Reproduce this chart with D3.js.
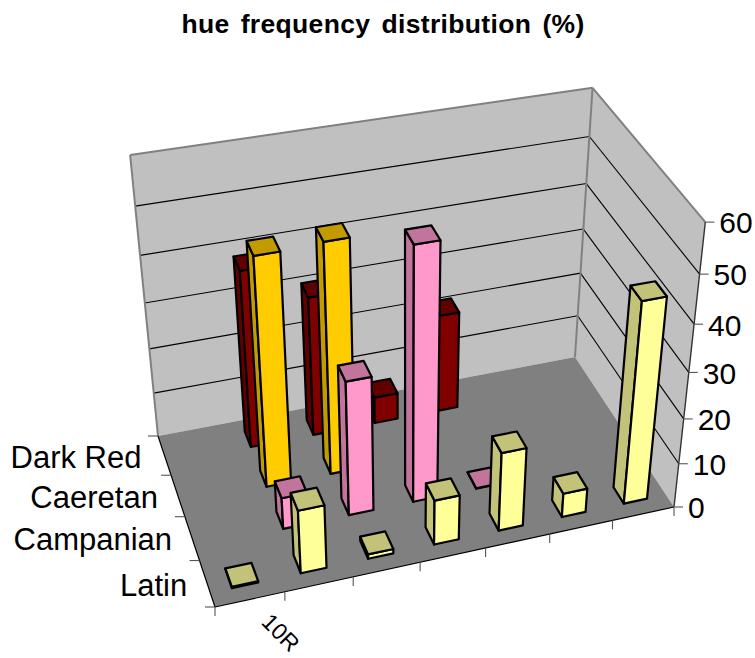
<!DOCTYPE html>
<html><head><meta charset="utf-8">
<script src="https://d3js.org/d3.v7.min.js"></script>
<style>html,body{margin:0;background:#fff}svg{display:block}text{font-family:"Liberation Sans",Arial,sans-serif;fill:#000}</style>
</head><body><svg id="c" width="755" height="658"></svg>
<script>
const categories = ["10R","","","","","",""];
const seriesNames = ["Latin","Campanian","Caeretan","Dark Red"];
const valueTicks = [0,10,20,30,40,50,60];
const latin     = [0.3,14,1,10,17.5,5.4,44];
const campanian = [0,7,29.5,54.5,0.1,0,0];
const caeretan  = [0,49.5,50,0,0,0,0];
const darkRed   = [0,39,31,6,22,0,0];
const seriesValues = [latin,campanian,caeretan,darkRed];
const faceColors = [
 {front:"#FFFF99",side:"#C2C278",top:"#C2C278"},
 {front:"#FF99CC",side:"#C2749C",top:"#C2749C"},
 {front:"#FFCC00",side:"#C29B00",top:"#C29B00"},
 {front:"#800000",side:"#610000",top:"#610000"}];

// camera calibration from the plot box: floor corners, then wall points by height fraction
const floorCorners=[[0,0,215,607],[1,0,674,507],[1,1,575,357],[0,1,158,436]];
const wallPoints=[
 [0,1,1,129,159],[0,1,5/6,136,208],[0,1,4/6,140,258],[0,1,3/6,145,305],[0,1,2/6,150,352],[0,1,1/6,154,395],
 [1,1,1,591,88],[1,1,5/6,588,136],[1,1,4/6,586,183],[1,1,3/6,583,230],[1,1,2/6,579,273],[1,1,1/6,576,317],
 [1,0,1,707,219],[1,0,5/6,700.7,270],[1,0,4/6,695,321.7],[1,0,3/6,690,371],[1,0,2/6,685,416],[1,0,1/6,680,461.7]];
function solve(A,b){const n=b.length,M=A.map((r,i)=>[...r,b[i]]);
 for(let i=0;i<n;i++){let p=i;for(let k=i+1;k<n;k++)if(Math.abs(M[k][i])>Math.abs(M[p][i]))p=k;
  [M[i],M[p]]=[M[p],M[i]];
  for(let k=0;k<n;k++)if(k!==i){const f=M[k][i]/M[i][i];for(let j=i;j<=n;j++)M[k][j]-=f*M[i][j];}}
 return M.map((r,i)=>r[n]/r[i]);}
const A=[],B=[];
floorCorners.forEach(([u,v,x,y])=>{A.push([u,v,1,0,0,0,-u*x,-v*x]);B.push(x);A.push([0,0,0,u,v,1,-u*y,-v*y]);B.push(y);});
const H=solve(A,B);H.push(1);
const base=(u,v)=>[H[0]*u+H[1]*v+H[2],H[3]*u+H[4]*v+H[5],H[6]*u+H[7]*v+H[8]];
const R=[];const S=[];
wallPoints.forEach(([u,v,w,x,y])=>{const [a,b,h]=base(u,v);R.push([w,0,-x*w]);S.push(x*h-a);R.push([0,w,-y*w]);S.push(y*h-b);});
const N=[0,1,2].map(i=>[0,1,2].map(j=>d3.sum(R,r=>r[i]*r[j])));
const T=[0,1,2].map(i=>d3.sum(R,(r,k)=>r[i]*S[k]));
const C=solve(N,T);

const xBand=d3.scaleBand().domain(d3.range(categories.length)).range([0,1]).paddingInner(.62).paddingOuter(.31);
const xStep=d3.scaleLinear().domain([0,categories.length]).range([0,1]);
const zBand=d3.scaleBand().domain(d3.range(seriesNames.length)).range([0,1]).paddingInner(.6).paddingOuter(.3);
const zStep=d3.scaleLinear().domain([0,seriesNames.length]).range([0,1]);
const yVal=d3.scaleLinear().domain([0,60]).range([0,1]);
function project(u,v,w){const [a,b,h]=base(u,v);const d=h+w*C[2];return [(a+w*C[0])/d,(b+w*C[1])/d];}

const svg=d3.select("#c");
const line=d3.line();
const poly=(pts,fill,stroke,sw,g)=>(g||svg).append("path").attr("d",line(pts)+"Z").attr("fill",fill)
  .attr("stroke",stroke).attr("stroke-width",sw).attr("stroke-linejoin","round");
const seg=(a,b,stroke,sw)=>svg.append("line").attr("x1",a[0]).attr("y1",a[1]).attr("x2",b[0]).attr("y2",b[1]).attr("stroke",stroke).attr("stroke-width",sw);

// walls & floor
poly([project(0,1,0),project(1,1,0),project(1,1,1),project(0,1,1)],"#C0C0C0","none",0);
poly([project(1,1,0),project(1,0,0),project(1,0,1),project(1,1,1)],"#C0C0C0","none",0);
poly([project(0,0,0),project(1,0,0),project(1,1,0),project(0,1,0)],"#808080","none",0);
valueTicks.slice(1,-1).forEach(t=>{const w=yVal(t);
 seg(project(0,1,w),project(1,1,w),"#000",1.1);
 seg(project(1,1,w),project(1,0,w),"#000",1.1);});
seg(project(0,1,0),project(0,1,1),"#808080",2);
seg(project(0,1,1),project(1,1,1),"#808080",2);
seg(project(1,1,0),project(1,1,1),"#808080",2);
seg(project(1,1,1),project(1,0,1),"#808080",2);

// axes
seg(project(0,0,0),project(1,0,0),"#000",1.2);
seg(project(0,0,0),project(0,1,0),"#000",1.2);
seg(project(1,0,0),project(1,0,1),"#333",1.4);
d3.range(categories.length+1).forEach(i=>{const p=project(xStep(i),0,0);seg(p,[p[0],p[1]+9],"#555",1.1);});
d3.range(seriesNames.length+1).forEach(i=>{const p=project(0,zStep(i),0);seg(p,[p[0]-10,p[1]],"#555",1.1);});
valueTicks.forEach(t=>{const p=project(1,0,yVal(t));seg(p,[p[0]+9,p[1]],"#555",1.1);
 svg.append("text").attr("x",p[0]+14).attr("y",p[1]+.5).attr("dy",".36em").attr("font-size",30).text(t);});
seriesNames.forEach((s,i)=>{const p=project(0,zBand(i)+zBand.bandwidth()/2,0);
 svg.append("text").attr("x",p[0]-(i===3?23:20)).attr("y",p[1]+1).attr("dy",".36em").attr("text-anchor","end").attr("font-size",31).text(s);});
categories.forEach((c,i)=>{if(!c)return;const p=project(xBand(i)+xBand.bandwidth()/2,0,0);
 svg.append("text").attr("transform",`translate(${p[0]+10},${p[1]+24}) rotate(45)`).attr("font-size",23).text(c);});

// bars back to front
d3.range(seriesNames.length-1,-1,-1).forEach(si=>{
 const col=faceColors[si],v0=zBand(si),v1=v0+zBand.bandwidth();
 seriesValues[si].forEach((val,ci)=>{ if(!val)return;
  const u0=xBand(ci),u1=u0+xBand.bandwidth(),w=yVal(val);
  poly([project(u0,v1,0),project(u0,v0,0),project(u0,v0,w),project(u0,v1,w)],col.side,"#000",2.2);
  poly([project(u0,v0,0),project(u1,v0,0),project(u1,v0,w),project(u0,v0,w)],col.front,"#000",2.2);
  poly([project(u0,v0,w),project(u1,v0,w),project(u1,v1,w),project(u0,v1,w)],col.top,"#000",2.2);
 });
});

svg.append("text").attr("x",383).attr("y",33).attr("text-anchor","middle").attr("font-size",26.5).attr("font-weight","bold")
 .attr("letter-spacing",.33).attr("word-spacing",3.5).text("hue frequency distribution (%)");
</script></body></html>
